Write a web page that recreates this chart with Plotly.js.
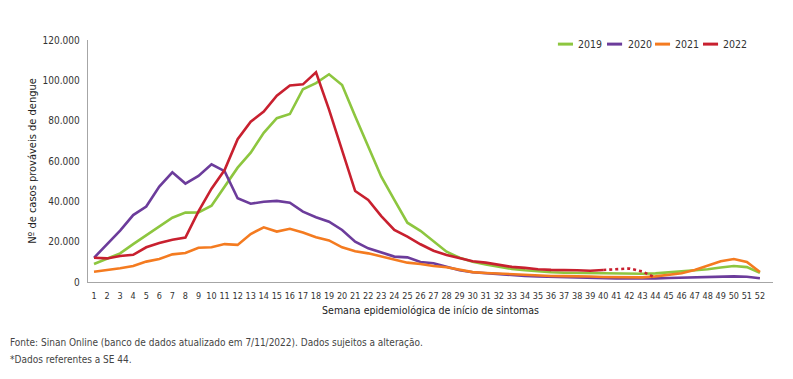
<!DOCTYPE html>
<html>
<head>
<meta charset="utf-8">
<script src="https://cdn.plot.ly/plotly-3.0.1.min.js"></script>
<style>
html,body{margin:0;padding:0;background:#fff;}
#chart{width:793px;height:379px;}
</style>
</head>
<body>
<div id="chart"></div>
<script>
// Epidemiological weeks
const weeks = Array.from({length: 52}, (_, i) => i + 1);

// Probable dengue cases per week
const cases2019 = [8900, 11500, 14200, 18800, 23300, 27600, 31900, 34400, 34500, 37800,
  47300, 56700, 64100, 74000, 81200, 83300, 95600, 98600, 103000, 97700,
  82200, 67300, 52200, 40700, 29400, 25400, 20000, 15000, 12000, 10000,
  8700, 7500, 6500, 5800, 5200, 4800, 4600, 4500, 4400, 4300,
  4200, 4200, 4100, 4300, 4800, 5100, 5600, 6300, 7200, 7900,
  7400, 4500];
const cases2020 = [12000, 19000, 25500, 33200, 37400, 47300, 54400, 48800, 52600, 58400,
  55000, 41500, 38800, 39800, 40200, 39300, 34900, 32100, 29900, 25800,
  20000, 16700, 14500, 12600, 12200, 9900, 9300, 7600, 5800, 4800,
  4300, 3800, 3300, 3000, 2700, 2500, 2400, 2300, 2100, 1900,
  1800, 1800, 1700, 1800, 2000, 2200, 2500, 2700, 2800, 2800,
  2600, 1900];
const cases2021 = [5100, 5800, 6800, 7900, 10100, 11400, 13700, 14400, 17000, 17200,
  18800, 18400, 23800, 27100, 25000, 26400, 24500, 22200, 20600, 17200,
  15200, 14200, 12600, 10900, 9600, 8900, 7900, 7300, 6000, 4900,
  4500, 4200, 3800, 3400, 3200, 3000, 2900, 2900, 2700, 2500,
  2400, 2400, 2300, 2800, 3500, 4300, 6000, 8200, 10300, 11400,
  9900, 5000];
const cases2022 = [12000, 11700, 12900, 13500, 17200, 19300, 21000, 22000, 35000, 46300,
  55500, 70800, 79500, 84500, 92400, 97400, 98000, 104000, 85500, 65300,
  45100, 40700, 32700, 25800, 22500, 18700, 15500, 13400, 11700, 10300,
  9600, 8500, 7500, 7000, 6300, 6000, 6000, 5800, 5600, 5950,
  6500, 6700, 5200, 2100];
const lastSolidWeek2022 = 40;

const seriesNames = ['2019', '2020', '2021', '2022'];
const seriesColors = ['#8DC63F', '#6C3C9B', '#F47B20', '#C8202F'];

const yTickVals = [0, 20000, 40000, 60000, 80000, 100000, 120000];

const yTitle = 'Nº de casos prováveis de dengue';
const xTitle = 'Semana epidemiológica de início de sintomas';
const sourceNote = 'Fonte: Sinan Online (banco de dados atualizado em 7/11/2022). Dados sujeitos a alteração.';
const footNote = '*Dados referentes a SE 44.';

const condensed = '"Liberation Sans Narrow", "DejaVu Sans Condensed", "Roboto", sans-serif';
const lw = 2.6;

const traces = [
  {x: weeks, y: cases2019, name: seriesNames[0], line: {color: seriesColors[0]}},
  {x: weeks, y: cases2020, name: seriesNames[1], line: {color: seriesColors[1]}},
  {x: weeks, y: cases2021, name: seriesNames[2], line: {color: seriesColors[2]}},
  {x: weeks.slice(0, lastSolidWeek2022), y: cases2022.slice(0, lastSolidWeek2022), name: seriesNames[3], line: {color: seriesColors[3]}},
  {x: weeks.slice(lastSolidWeek2022 - 1, cases2022.length), y: cases2022.slice(lastSolidWeek2022 - 1), name: seriesNames[3] + '*', line: {color: seriesColors[3], dash: 'dot'}}
].map(t => Object.assign(t, {type: 'scatter', mode: 'lines', hoverinfo: 'skip', showlegend: false,
  line: Object.assign({width: lw, shape: 'linear'}, t.line)}));

// Custom compact legend (short line swatches like the reference)
const legendLeft = [0.686, 0.7577, 0.8277, 0.8978];
const swatchW = 0.022;
const legendY = 0.983;
const shapes = seriesNames.map((n, i) => ({
  type: 'line', xref: 'paper', yref: 'paper',
  x0: legendLeft[i], x1: legendLeft[i] + swatchW, y0: legendY, y1: legendY,
  line: {color: seriesColors[i], width: 3}
}));
const annotations = seriesNames.map((n, i) => ({
  xref: 'paper', yref: 'paper', x: legendLeft[i] + swatchW + 0.005, y: legendY,
  xanchor: 'left', yanchor: 'middle', text: n, showarrow: false,
  font: {family: condensed, size: 10.5, color: '#333'}
}));
annotations.push({
  xref: 'paper', yref: 'paper', x: -0.1168, y: -0.248, xanchor: 'left', yanchor: 'middle',
  text: sourceNote, showarrow: false, font: {family: condensed, size: 10, color: '#444'}
});
annotations.push({
  xref: 'paper', yref: 'paper', x: -0.1168, y: -0.322, xanchor: 'left', yanchor: 'middle',
  text: footNote, showarrow: false, font: {family: condensed, size: 10, color: '#444'}
});

const layout = {
  width: 793, height: 379,
  margin: {l: 88, r: 20, t: 40, b: 97},
  paper_bgcolor: '#fff', plot_bgcolor: '#fff',
  separators: ',.',
  showlegend: false,
  xaxis: {
    range: [0.54, 53.0], tickmode: 'array', tickvals: weeks, ticktext: weeks.map(String),
    tickangle: 0,
    showgrid: false, zeroline: false, showline: true, linecolor: '#A6A6A6', linewidth: 1.3,
    ticks: '', ticklabelstandoff: 5,
    tickfont: {family: condensed, size: 9, color: '#333'},
    title: {text: xTitle, standoff: 6, font: {family: condensed, size: 10.5, color: '#222'}}
  },
  yaxis: {
    range: [0, 120000], tickmode: 'array', tickvals: yTickVals, tickformat: ',d',
    showgrid: false, zeroline: false, showline: true, linecolor: '#A6A6A6', linewidth: 1.3,
    ticks: '', ticklabelstandoff: 5,
    tickfont: {family: condensed, size: 10, color: '#333'},
    title: {text: yTitle, standoff: 3, font: {family: condensed, size: 11, color: '#222'}}
  },
  shapes: shapes,
  annotations: annotations
};

Plotly.newPlot('chart', traces, layout, {displayModeBar: false, staticPlot: true});
</script>
</body>
</html>
